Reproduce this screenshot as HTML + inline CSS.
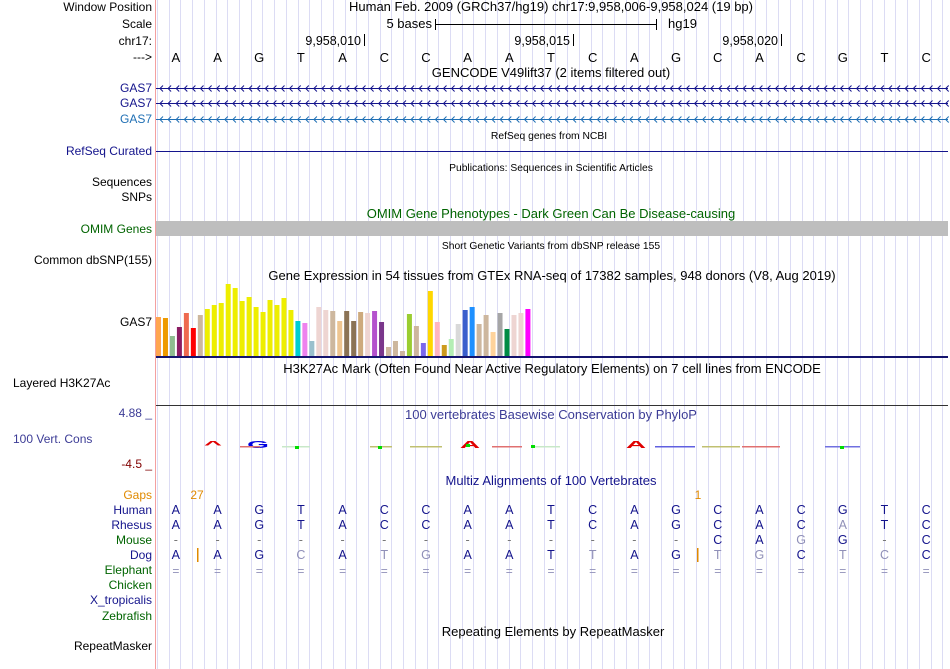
<!DOCTYPE html>
<html><head><meta charset="utf-8"><style>
body{margin:0;background:#fff;width:950px;height:669px;overflow:hidden}
svg{display:block;font-family:"Liberation Sans",sans-serif}
</style></head><body>
<svg id="c" width="950" height="669" xmlns="http://www.w3.org/2000/svg">
<g id="grid"></g>
<line x1="155.5" y1="0" x2="155.5" y2="669" stroke="#f4a0a0"/>
<g id="labels" font-size="12" text-anchor="end"></g>
<g id="titles" font-size="13" text-anchor="middle"></g>
<g id="tracks"></g>
</svg>
<script>
const NS="http://www.w3.org/2000/svg";
const bases=["A","A","G","T","A","C","C","A","A","T","C","A","G","C","A","C","G","T","C"];
const rhesus=["A","A","G","T","A","C","C","A","A","T","C","A","G","C","A","C","a","T","C"];
const mouse=["-","-","-","-","-","-","-","-","-","-","-","-","-","C","A","g","G","-","C"];
const dog=["A","A","G","c","A","t","g","A","A","T","t","A","G","t","g","C","t","c","C"];
const gtexVals=[39,38,20,29,43,28,41,47,51,53,72,68,55,59,49,44,56,51,58,46,35,33,15,49,46,45,35,45,35,44,43,45,34,9,15,5,42,30,13,65,34,11,17,32,46,49,32,41,24,43,27,41,43,47];
const gtexColors=["#ffa54f","#ee9a00","#8fbc8f","#8b1c62","#ee6a50","#ff0000","#cdb79e","#eeee00","#eeee00","#eeee00","#eeee00","#eeee00","#eeee00","#eeee00","#eeee00","#eeee00","#eeee00","#eeee00","#eeee00","#eeee00","#00ced1","#ee82ee","#9ac0cd","#eed5d2","#eed5d2","#cdb79e","#eec591","#8b7355","#8b7355","#cdaa7d","#eed5d2","#b452cd","#7a378b","#cdb79e","#cdb79e","#cdb79e","#9acd32","#cdb79e","#7b68ee","#ffd700","#ffb6c1","#cd9b1d","#b4eeb4","#d9d9d9","#3a5fcd","#1e90ff","#cdb79e","#cdb79e","#ffd39b","#a6a6a6","#008b45","#eed5d2","#eed5d2","#ff00ff"];
const gtexMax=72;
const X0=156,X1=948,BW=(X1-X0)/bases.length;
const bx=i=>X0+(i+0.5)*BW;
function el(tag,attrs,parent,text){const e=document.createElementNS(NS,tag);for(const k in attrs)e.setAttribute(k,attrs[k]);if(text!==undefined)e.textContent=text;parent.appendChild(e);return e;}
const grid=document.getElementById('grid'),labels=document.getElementById('labels'),titles=document.getElementById('titles'),tr=document.getElementById('tracks');
for(let x=157;x<950;x+=11.72){const l=el('line',{x1:Math.round(x)+.5,y1:0,x2:Math.round(x)+.5,y2:669,stroke:'#dcdcf4'},grid);

}
const L=[["Window Position",11,"#000"],["Scale",28,"#000"],["chr17:",45,"#000"],["--->",61,"#000"],["GAS7",92,"#14148c"],["GAS7",107,"#14148c"],["GAS7",123,"#1f6fb4"],["RefSeq Curated",155,"#14148c"],["Sequences",186,"#000"],["SNPs",201,"#000"],["OMIM Genes",233,"#006400"],["Common dbSNP(155)",264,"#000"],["GAS7",326,"#000"],["Gaps",499,"#e08a00"],["Human",514,"#14148c"],["Rhesus",529,"#14148c"],["Mouse",544,"#006400"],["Dog",559,"#14148c"],["Elephant",574,"#006400"],["Chicken",589,"#006400"],["X_tropicalis",604,"#14148c"],["Zebrafish",620,"#006400"],["RepeatMasker",650,"#000"]];
L.forEach(([t,y,c])=>{const e=el('text',{x:152,y:y,fill:c},labels,t);

});
[["Layered H3K27Ac",387,"#000"],["100 Vert. Cons",443,"#3c3c96"]].forEach(([t,y,c])=>{const e=el('text',{x:13,y:y,fill:c,'text-anchor':'start'},labels,t);

});
el('text',{x:152,y:417,fill:'#3c3c96'},labels,'4.88 _');
el('text',{x:152,y:468,fill:'#800000'},labels,'-4.5 _');
const T=[["Human Feb. 2009 (GRCh37/hg19)   chr17:9,958,006-9,958,024 (19 bp)",551,11,13,"#000"],["GENCODE V49lift37 (2 items filtered out)",551,77,13,"#000"],["RefSeq genes from NCBI",549,139,10.3,"#000"],["Publications: Sequences in Scientific Articles",551,171,10.3,"#000"],["OMIM Gene Phenotypes - Dark Green Can Be Disease-causing",551,218,13,"#006400"],["Short Genetic Variants from dbSNP release 155",551,249,10.3,"#000"],["Gene Expression in 54 tissues from GTEx RNA-seq of 17382 samples, 948 donors (V8, Aug 2019)",552,280,13,"#000"],["H3K27Ac Mark (Often Found Near Active Regulatory Elements) on 7 cell lines from ENCODE",552,373,13,"#000"],["100 vertebrates Basewise Conservation by PhyloP",551,419,13,"#3c3c96"],["Multiz Alignments of 100 Vertebrates",551,485,13,"#14148c"],["Repeating Elements by RepeatMasker",553,636,13,"#000"]];
T.forEach(([t,x,y,s,c])=>{const e=el('text',{x:x,y:y,'font-size':s,fill:c,'xml:space':'preserve'},titles,t);

});
// scale
el('text',{x:432,y:28,'font-size':13,'text-anchor':'end'},tr,'5 bases');
el('line',{x1:435.5,y1:24.5,x2:656,y2:24.5,stroke:'#000'},tr);
el('line',{x1:435.5,y1:19,x2:435.5,y2:30,stroke:'#000'},tr);
el('line',{x1:656.5,y1:19,x2:656.5,y2:30,stroke:'#000'},tr);
el('text',{x:668,y:28,'font-size':13},tr,'hg19');
[["9,958,010",364],["9,958,015",573],["9,958,020",781]].forEach(([t,x])=>{el('text',{x:x-3,y:45,'font-size':12.5,'text-anchor':'end'},tr,t);el('line',{x1:x+.5,y1:34,x2:x+.5,y2:46,stroke:'#000'},tr);});
bases.forEach((b,i)=>{const e=el('text',{x:bx(i)-1,y:62,'font-size':13,'text-anchor':'middle'},tr,b);

});
// gene lines
[[88,'#14148c'],[103,'#14148c'],[119,'#1f6fb4']].forEach(([y,c])=>{el('line',{x1:156,y1:y+.5,x2:948,y2:y+.5,stroke:c},tr);
for(let x=160;x<948;x+=8.1){el('path',{d:`M${x+3},${y-2.5} L${x},${y+.5} L${x+3},${y+3.5}`,stroke:c,fill:'none','stroke-width':1},tr);}});
el('line',{x1:156,y1:151.5,x2:948,y2:151.5,stroke:'#14148c'},tr);
const omim=el('rect',{x:156,y:221,width:792,height:15,fill:'#bebebe'},tr);


// GTEx bars
const base=356,H=72;
gtexVals.forEach((v,i)=>{const h=v/gtexMax*H;const r=el('rect',{x:156+i*6.97,y:base-h,width:5,height:h,fill:gtexColors[i]},tr);

});
el('rect',{x:156,y:356,width:792,height:2,fill:'#14146e'},tr);
el('line',{x1:156,y1:405.5,x2:948,y2:405.5,stroke:'#333'},tr);
// conservation logos
[[213,'^','#e00000',10,2.2],[258,'G','#0000e0',10,2.0],[470,'A','#e00000',10,2.0],[636,'A','#e00000',10,2.0]].forEach(([x,t,c,s,sx])=>{el('text',{transform:`translate(${x},448) scale(${sx},0.75)`,'font-size':s+4,'font-weight':'bold','text-anchor':'middle',fill:c},tr,t);});
[[240,260,'#e07070'],[282,298,'#c8e8c8'],[292,310,'#c8e8c8'],[370,392,'#c0c070'],[410,442,'#c0c070'],[492,522,'#e07070'],[535,560,'#c8e8c8'],[655,695,'#6060e0'],[702,740,'#c0c070'],[742,780,'#e07070'],[825,860,'#7070e0']].forEach(([a,b,c])=>{el('rect',{x:a,y:446,width:b-a,height:1.5,fill:c},tr);});
[[297,446],[380,446],[468,444],[533,445],[842,446]].forEach(([x,y])=>el('rect',{x:x-2,y:y,width:4,height:3,fill:'#00dd00'},tr));
// multiz
el('text',{x:197,y:499,'font-size':12,'text-anchor':'middle',fill:'#e08a00'},tr,'27');
el('text',{x:698,y:499,'font-size':12,'text-anchor':'middle',fill:'#e08a00'},tr,'1');
el('rect',{x:197,y:548,width:1.5,height:14,fill:'#e08a00'},tr);
el('rect',{x:697,y:548,width:1.5,height:14,fill:'#e08a00'},tr);
function row(arr,y){arr.forEach((b,i)=>{const lo=b===b.toLowerCase()&&b!=='-';const e=el('text',{x:bx(i)-1,y:y,'font-size':12.5,'text-anchor':'middle',fill:b==='-'?'#777':(lo?'#9090b8':'#14148c')},tr,b.toUpperCase());

});}
row(bases,514);row(rhesus,529);row(mouse,544);row(dog,559);
bases.forEach((b,i)=>el('text',{x:bx(i)-1,y:575,'font-size':12,'text-anchor':'middle',fill:'#9090b8'},tr,'='));
</script>
</body></html>
